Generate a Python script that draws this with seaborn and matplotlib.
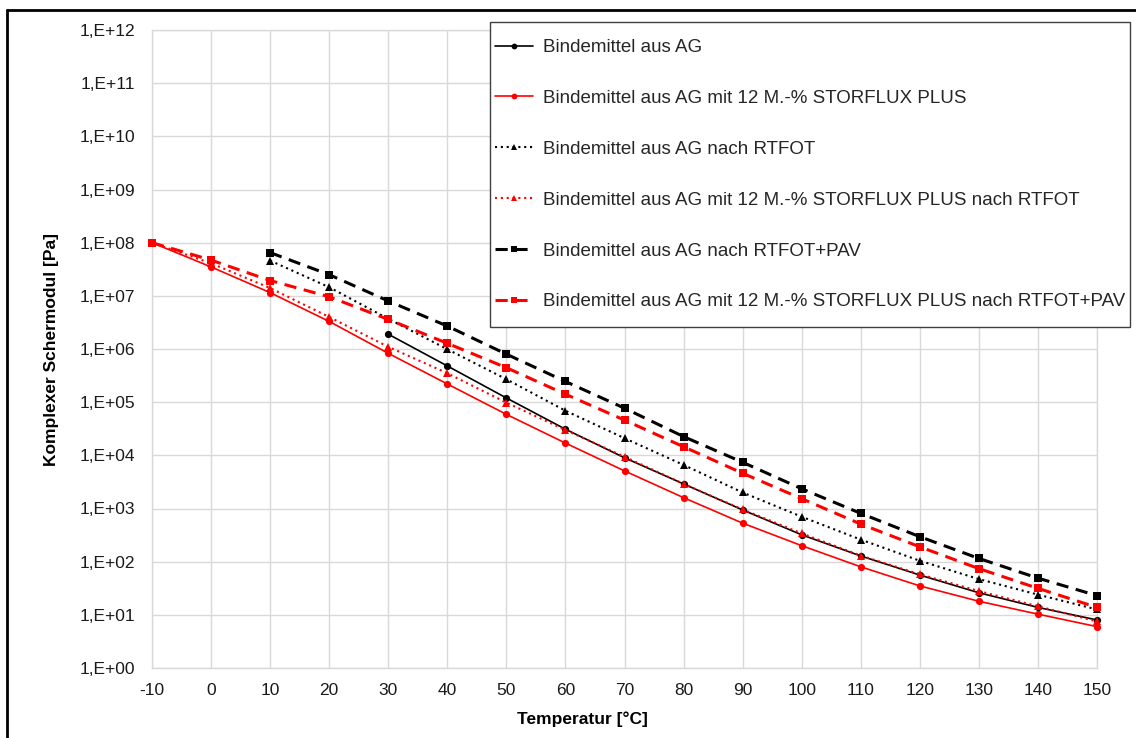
import numpy as np
import pandas as pd
import matplotlib
matplotlib.use("Agg")
import matplotlib.pyplot as plt
from matplotlib.lines import Line2D
from matplotlib.patches import Rectangle
from matplotlib.ticker import FixedLocator, FuncFormatter, NullLocator
import seaborn as sns

# ---- data ----
temp_all = [-10, 0, 10, 20, 30, 40, 50, 60, 70, 80, 90, 100, 110, 120, 130, 140, 150]
temp_10 = [10, 20, 30, 40, 50, 60, 70, 80, 90, 100, 110, 120, 130, 140, 150]
temp_30 = [30, 40, 50, 60, 70, 80, 90, 100, 110, 120, 130, 140, 150]

ag = [1.9e6, 4.8e5, 1.2e5, 3.1e4, 9.0e3, 2.9e3, 9.4e2, 3.2e2, 1.28e2, 5.6e1, 2.6e1, 1.38e1, 8.0]
ag_sf = [1.0e8, 3.5e7, 1.15e7, 3.3e6, 8.3e5, 2.2e5, 5.9e4, 1.7e4, 5.1e3, 1.6e3, 5.3e2,
         2.0e2, 8.0e1, 3.5e1, 1.8e1, 1.03e1, 6.0]
ag_rtfot = [4.6e7, 1.45e7, 3.7e6, 9.9e5, 2.7e5, 6.9e4, 2.1e4, 6.6e3, 2.0e3, 7.0e2, 2.6e2,
            1.04e2, 4.7e1, 2.4e1, 1.26e1]
ag_sf_rtfot = [1.0e8, 4.1e7, 1.4e7, 4.0e6, 1.1e6, 3.5e5, 9.8e4, 3.0e4, 9.4e3, 2.9e3, 9.6e2,
               3.4e2, 1.3e2, 5.8e1, 2.8e1, 1.45e1, 7.5]
ag_pav = [6.5e7, 2.5e7, 8.0e6, 2.7e6, 8.0e5, 2.45e5, 7.7e4, 2.25e4, 7.4e3, 2.35e3, 8.1e2,
          2.95e2, 1.15e2, 4.9e1, 2.3e1]
ag_sf_pav = [1.0e8, 4.7e7, 1.94e7, 9.6e6, 3.6e6, 1.28e6, 4.45e5, 1.41e5, 4.6e4, 1.45e4, 4.6e3,
             1.53e3, 5.1e2, 1.9e2, 7.4e1, 3.15e1, 1.38e1]

labels = [
    "Bindemittel aus AG",
    "Bindemittel aus AG mit 12 M.-% STORFLUX PLUS",
    "Bindemittel aus AG nach RTFOT",
    "Bindemittel aus AG mit 12 M.-% STORFLUX PLUS nach RTFOT",
    "Bindemittel aus AG nach RTFOT+PAV",
    "Bindemittel aus AG mit 12 M.-% STORFLUX PLUS nach RTFOT+PAV",
]
x_ticks = list(range(-10, 151, 10))
y_exponents = list(range(0, 13))

# ---- style ----
sns.set_theme(style="white")
plt.rcParams["font.family"] = ["Liberation Sans", "DejaVu Sans"]

W, H = 1136, 738
fig = plt.figure(figsize=(W / 100, H / 100), dpi=100)
ax = fig.add_axes([152 / W, 1 - 668 / H, (1097 - 152) / W, (668 - 30) / H])

BLACK = "#000000"
RED = "#ff0000"
series = [
    (temp_30, ag, BLACK, "o", "-", 1.2, 5.2),
    (temp_all, ag_sf, RED, "o", "-", 1.2, 5.2),
    (temp_10, ag_rtfot, BLACK, "^", (0, (1, 1.8)), 1.5, 5.8),
    (temp_all, ag_sf_rtfot, RED, "^", (0, (1, 1.8)), 1.5, 5.8),
    (temp_10, ag_pav, BLACK, "s", (0, (4, 2.5)), 2.2, 5.2),
    (temp_all, ag_sf_pav, RED, "s", (0, (4, 2.5)), 2.2, 5.2),
]
for (xs, ys, col, mk, ls, lw, ms), lab in zip(series, labels):
    sns.lineplot(x=xs, y=ys, ax=ax, color=col, marker=mk, linestyle=ls, linewidth=lw,
                 markersize=ms, markeredgecolor=col, markeredgewidth=0, label=lab,
                 zorder=3, clip_on=False)

ax.set_yscale("log")
ax.set_xlim(-10, 150)
ax.set_ylim(1, 1e12)
ax.xaxis.set_major_locator(FixedLocator(x_ticks))
ax.yaxis.set_major_locator(FixedLocator([10.0 ** e for e in y_exponents]))
ax.yaxis.set_minor_locator(NullLocator())
ax.yaxis.set_major_formatter(FuncFormatter(lambda v, p: "1,E+%02d" % int(round(np.log10(v)))))
ax.xaxis.set_major_formatter(FuncFormatter(lambda v, p: "%d" % v))

ax.grid(True, which="major", color="#d9d9d9", linewidth=1.0)
for s in ax.spines.values():
    s.set_color("#d9d9d9")
    s.set_linewidth(1.0)
ax.tick_params(axis="both", which="both", length=0, labelsize=12.5, colors="#1a1a1a")
ax.tick_params(axis="y", pad=12)
ax.tick_params(axis="x", pad=11)

ax.set_xlabel("Temperatur [°C]", fontsize=12.5, fontweight="bold", color="#000000")
ax.set_ylabel("Komplexer Schermodul [Pa]", fontsize=12.5, fontweight="bold", color="#000000")
ax.xaxis.set_label_coords(0.456, -0.068)
ax.yaxis.set_label_coords(-0.098, 0.5)

# legend box (frame drawn separately to match the reference padding)
box = Rectangle((490 / W, 1 - 327 / H), (1130 - 490) / W, (327 - 22) / H,
                transform=fig.transFigure, facecolor="white", edgecolor="#404040",
                linewidth=1.0, zorder=9)
fig.add_artist(box)
leg = ax.legend(loc="upper left", bbox_to_anchor=(495 / W, 1 - 39 / H),
                bbox_transform=fig.transFigure, borderaxespad=0, fontsize=13.5,
                frameon=False, handlelength=2.0, handletextpad=0.58, labelspacing=1.8,
                borderpad=0, markerscale=0.8)
leg.set_zorder(10)
fig.add_artist(leg)

# outer frame of the screenshot
fig.add_artist(Line2D([7 / W, 7 / W], [0, 1 - 10 / H], color="black", linewidth=2,
                      transform=fig.transFigure))
fig.add_artist(Line2D([7 / W, 1], [1 - 10 / H, 1 - 10 / H], color="black", linewidth=2,
                      transform=fig.transFigure))

fig.savefig("out.png", dpi=100)
